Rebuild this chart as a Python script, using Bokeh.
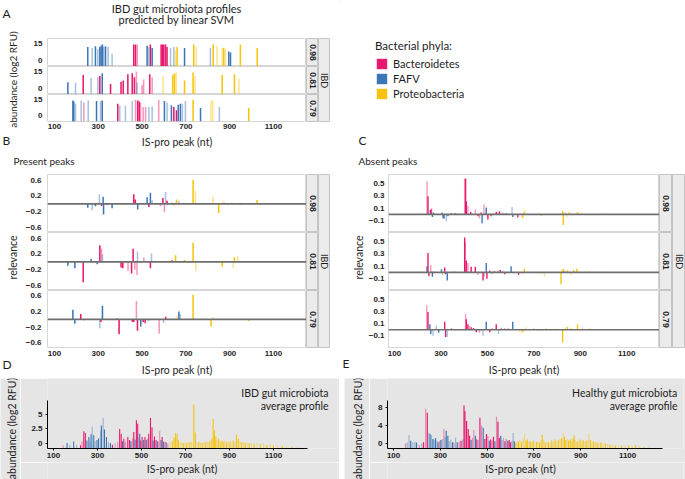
import math
from bokeh.plotting import figure
from bokeh.models import (Range1d, Span, Label, Spacer, ColumnDataSource,
                          FixedTicker, Legend, LegendItem)
from bokeh.layouts import row, column
from bokeh.core.properties import value
from bokeh.embed import file_html
from bokeh.resources import INLINE

# ------------------------------------------------------------------ data
phyla = ["Bacteroidetes", "FAFV", "Proteobacteria"]
auc_labels = ["0.98", "0.81", "0.79"]
x_ticks = [100, 300, 500, 700, 900, 1100]
# phylum codes: B/F/P = Bacteroidetes/FAFV/Proteobacteria, lower case = lighter shade

# Panel A: predicted IBD profiles (abundance, log2 RFU)
a1_nt = [252, 272, 287, 298, 307, 313, 319, 325, 333, 345,
         363, 462, 470, 478, 523, 531, 538, 546, 587, 593,
         599, 607, 614, 630, 645, 653, 660, 694, 736, 747,
         812, 825, 843, 866, 873, 881, 896, 904, 949, 1026]
a1_val = [12, 11, 12.5, 10, 12, 13, 14, 12, 12.5, 12,
          6, 14, 14, 14, 13, 12, 14, 11, 14, 14,
          14, 14, 12, 11, 12, 9, 12, 11, 14, 12,
          11, 14, 13, 11, 11, 10, 8, 7, 14, 11]
a1_phy = list("FfFfFFFfFf" "fBBbFfBFBB" "BBBffpPFPp" "fPppPpFFPP")

a2_nt = [161, 196, 231, 267, 298, 307, 318, 356, 404, 414,
         435, 455, 465, 474, 477, 500, 507, 535, 546, 596,
         640, 648, 656, 694, 733, 742, 866, 922, 942]
a2_val = [5.6, 5, 12, 9.5, 10, 11, 13.5, 4, 6, 7,
          12.5, 13.5, 10, 15, 5, 3, 8, 12.5, 10, 11,
          12, 13.5, 14, 7, 14, 11, 12, 12.5, 8.5]
a2_phy = list("FfBffBFBBB" "BBBbfbbBbp" "PPpPPpPPp")

a3_nt = [184, 188, 196, 222, 234, 254, 292, 310, 318, 389,
         398, 424, 455, 470, 480, 487, 493, 505, 516, 531,
         546, 576, 602, 614, 634, 645, 657, 665, 675, 684,
         698, 733, 767, 815, 823, 853, 987]
a3_val = [14, 13, 11, 14, 12, 14, 13.5, 13.5, 14, 11,
          9, 9, 13.5, 14.5, 14, 13, 12, 8, 8, 8,
          8.5, 14.5, 13.5, 12, 9.5, 8, 5, 10, 11, 11,
          13.5, 14.5, 7, 14, 14, 8, 7]
a3_phy = list("FFffbfFfFB" "fffbBBbbbf" "fbFfFBBFFf" "fPFppfP")

# Panel B: relevance of present peaks
b1_nt = [252, 272, 287, 305, 315, 322, 324, 340, 363, 462,
         469, 480, 523, 531, 538, 546, 584, 595, 602, 607,
         614, 637, 645, 657, 668, 733, 744, 824, 850, 873,
         911, 949, 1025]
b1_val = [-0.10, -0.16, -0.06, 0.24, -0.05, 0.18, -0.27, -0.04, -0.11, 0.24,
          0.11, -0.14, 0.17, -0.08, 0.28, 0.09, -0.06, 0.15, -0.21, 0.30,
          0.08, 0.03, -0.06, 0.11, 0.08, 0.61, 0.34, 0.18, -0.23, 0.07,
          0.03, -0.03, 0.10]
b1_phy = list("FfFfBFFfFB" "BFFBFfbBbf" "BFpPfPppPp" "PPP")

b2_nt = [161, 193, 231, 267, 295, 307, 315, 319, 404, 412,
         436, 452, 459, 467, 477, 479, 508, 538, 543, 637,
         653, 694, 733, 745, 866, 916, 922, 937]
b2_val = [-0.10, -0.16, -0.51, 0.08, -0.06, 0.42, 0.34, 0.19, -0.14, -0.16,
          -0.23, -0.29, 0.33, -0.20, -0.33, 0.26, 0.11, -0.16, 0.21, 0.04,
          0.17, 0.05, 0.48, -0.23, -0.12, -0.15, 0.12, 0.14]
b2_phy = list("FFBFFBbfBB" "bBBbbfbBfB" "PPPpPpPp")

b3_nt = [184, 193, 220, 234, 307, 312, 319, 386, 395, 455,
         462, 474, 479, 494, 505, 514, 529, 578, 598, 608,
         660, 668, 675, 733, 815, 824, 987]
b3_val = [0.25, -0.11, 0.14, -0.03, -0.23, -0.07, 0.35, 0.03, -0.38, -0.06,
          -0.07, 0.47, -0.29, -0.18, -0.07, -0.10, -0.05, -0.37, -0.09, 0.07,
          0.10, 0.20, 0.13, 0.63, -0.18, 0.06, -0.04]
b3_phy = list("FFBbfBFFBB" "BbBFBBfbfB" "pFfPPpP")

# Panel C: relevance of absent peaks
c1_nt = [220, 232, 240, 244, 254, 257, 260, 263, 268, 305,
         309, 313, 323, 330, 345, 362, 375, 402, 406, 409,
         416, 428, 448, 459, 466, 473, 477, 485, 495, 502,
         516, 525, 538, 545, 552, 566, 580, 606, 609, 631,
         652, 657, 662, 731, 736, 824, 827, 834, 841, 852,
         860, 871, 888, 903, 931, 960, 996]
c1_val = [0.01, 0.01, 0.53, 0.29, 0.07, 0.08, 0.10, -0.04, 0.03, 0.03,
          -0.06, -0.07, -0.11, -0.03, 0.02, 0.02, 0.01, 0.58, 0.57, 0.21,
          0.14, 0.04, 0.08, -0.03, -0.06, 0.03, -0.14, 0.16, 0.11, -0.08,
          -0.03, 0.02, 0.04, 0.03, 0.05, 0.03, 0.02, 0.12, -0.04, -0.05,
          -0.06, 0.03, 0.07, -0.03, -0.02, 0.06, -0.17, 0.04, -0.05, 0.03,
          0.02, 0.02, 0.04, 0.02, 0.01, 0.01, 0.01]
c1_phy = list("ffbBFBbFFF" "FFfFBBBbBB" "bBbBbBFbFB" "BbBbBfBfFB" "PPpppPPppP" "ppPpppP")

c2_nt = [220, 240, 244, 248, 256, 263, 268, 302, 306, 316,
         319, 327, 356, 362, 402, 405, 409, 416, 430, 448,
         459, 481, 485, 495, 498, 510, 520, 530, 545, 555,
         565, 575, 602, 634, 652, 659, 731, 745, 817, 822,
         827, 835, 845, 860, 871, 885, 917, 940, 960, 1003]
c2_val = [0.01, 0.10, 0.31, -0.06, 0.12, -0.07, 0.02, 0.05, -0.04, 0.08,
          -0.03, -0.13, 0.01, 0.01, 0.56, 0.49, 0.19, 0.15, 0.09, 0.09,
          -0.04, -0.13, -0.07, 0.15, -0.10, 0.03, -0.03, 0.02, 0.03, 0.04,
          0.03, -0.03, 0.10, -0.04, -0.03, 0.06, -0.03, -0.07, -0.19, 0.06,
          0.05, 0.04, 0.03, -0.04, 0.04, 0.06, 0.02, 0.03, 0.01, 0.01]
c2_phy = list("fFBBbFfFfB" "BFBBBbBbBB" "bBbFBBfBbB" "fBFBpPppPp" "PpPpPPppPP")

c3_nt = [220, 239, 244, 252, 256, 266, 280, 290, 316, 320,
         327, 345, 406, 409, 416, 423, 430, 440, 452, 466,
         481, 495, 510, 520, 538, 548, 560, 575, 590, 609,
         640, 652, 666, 700, 731, 752, 800, 824, 835, 845,
         860, 888, 910, 940, 970]
c3_val = [0.01, 0.40, 0.29, 0.09, -0.07, -0.10, 0.07, -0.05, 0.13, -0.12,
          -0.12, 0.02, 0.26, 0.17, 0.09, 0.06, 0.04, 0.03, -0.04, -0.05,
          -0.10, 0.13, -0.04, 0.03, 0.09, -0.07, 0.02, 0.03, 0.03, 0.13,
          -0.04, -0.04, 0.04, 0.02, -0.02, 0.03, 0.02, -0.21, 0.04, 0.05,
          0.03, 0.09, 0.02, 0.03, 0.01]
c3_phy = list("fbBFFffFBB" "fBbBBbBBBb" "fFBbBfBbfF" "pPpPpppPpP" "pPPpP")

# Panel D: IBD average profile
d_nt = [144, 162, 175, 192, 205, 223, 230, 238, 245, 252,
        261, 266, 271, 276, 283, 290, 298, 305, 314, 318,
        326, 332, 341, 350, 359, 368, 380, 392, 401, 408,
        414, 420, 428, 438, 446, 452, 459, 465, 471, 477,
        483, 488, 492, 497, 503, 510, 516, 522, 527, 533,
        541, 548, 553, 559, 566, 572, 577, 583, 589, 594,
        600, 606, 612, 620, 630, 640, 648, 655, 662, 668,
        675, 683, 690, 697, 705, 712, 720, 728, 738, 745,
        752, 760, 768, 776, 784, 792, 800, 808, 815, 820,
        826, 832, 838, 844, 850, 856, 862, 868, 874, 880,
        887, 894, 902, 910, 918, 926, 932, 940, 948, 956,
        964, 972, 980, 990, 1000, 1012, 1025, 1040, 1055, 1070,
        1085, 1100, 1120, 1140, 1160, 1185, 1210]
d_val = [-0.3, 0.1, -0.2, 0.35, -0.3, -0.3, 0.4, 2.1, 1.8, 0.5,
         1.1, 0.3, 1.6, 2.9, 1.4, 0.4, 0.6, 0.9, 2.2, 3.1,
         4.4, 2.4, 1.1, 0.2, 0.1, -0.2, 0.0, 0.2, 2.5, 1.7,
         0.4, 0.8, 0.3, 1.1, 0.6, 0.4, 0.9, 2.0, 0.7, 4.0,
         3.4, 1.0, 1.7, 0.5, 1.1, 0.6, 1.1, 0.6, 0.8, 1.7,
         4.4, 2.8, 0.5, 1.2, 0.6, 0.4, 0.3, 2.2, 0.6, 1.1,
         0.3, 0.3, 0.2, 0.0, 0.2, 0.4, 0.9, 1.8, 1.6, 0.6,
         0.2, 0.2, 0.1, 0.2, 0.1, 0.3, 0.2, 0.3, 6.7, 1.9,
         0.3, 0.2, 0.2, 0.1, 0.3, 0.2, 0.4, 0.3, 0.6, 0.8,
         4.2, 2.3, 1.2, 0.6, 0.8, 0.5, 0.4, 0.6, 0.3, 0.5,
         0.2, 0.3, 0.4, 0.2, 0.5, 0.3, 1.5, 0.8, 0.4, 0.2,
         0.3, 0.1, 0.2, 0.1, 0.1, 0.0, 0.1, -0.1, 0.0, -0.2,
         -0.1, -0.3, -0.3, -0.4, -0.5, -0.5, -0.6]
d_phy = list("bFfFfBbBBF" "FfFfFfFFfF" "fFFfFBfbBB" "FBbBBFbBFB" "BfFBBFBFbB"
             "BBFBBFbbFB" "FfBfpPPPPP" "ppPpPpPpPP" "pPpPpPpPpP" "PPPpPpPpPp"
             "PpPpPpPPpP" "pPpPpPpPpP" "pPpPpPp")

# Panel E: healthy average profile
e_nt = [151, 158, 166, 173, 182, 191, 198, 210, 220, 228,
        237, 244, 251, 256, 262, 268, 273, 279, 285, 290,
        296, 302, 308, 315, 320, 325, 332, 338, 345, 352,
        358, 365, 372, 380, 388, 395, 401, 405, 412, 419,
        425, 431, 437, 443, 450, 456, 462, 469, 476, 483,
        490, 497, 503, 509, 515, 521, 527, 533, 540, 546,
        552, 558, 564, 570, 576, 582, 588, 594, 600, 606,
        611, 616, 622, 628, 634, 640, 647, 654, 660, 666,
        672, 678, 684, 690, 697, 704, 711, 718, 724, 730,
        735, 741, 748, 755, 762, 769, 776, 783, 790, 797,
        804, 811, 818, 825, 830, 836, 842, 848, 855, 861,
        867, 871, 877, 884, 890, 897, 904, 910, 917, 923,
        929, 935, 941, 948, 955, 962, 970, 978, 986, 995,
        1005, 1015, 1025, 1035, 1048, 1060, 1075, 1090, 1105, 1120,
        1135, 1150, 1170, 1190]
e_val = [0.0, 0.3, 1.9, 0.6, 0.2, 0.4, 0.2, -0.3, 0.0, 0.3,
         7.7, 6.8, 2.3, 2.1, 1.8, 1.0, 0.7, 1.2, 0.6, 0.3,
         0.5, 0.8, 1.0, 3.2, 1.4, 2.8, 1.7, 0.5, 0.9, 0.3,
         0.2, 1.3, 0.3, 0.4, 0.6, 0.9, 8.4, 7.2, 5.0, 3.2,
         1.7, 0.8, 1.2, 3.0, 1.7, 0.9, 0.8, 5.7, 4.0, 3.5,
         1.0, 2.1, 1.7, 0.6, 0.9, 0.6, 1.5, 0.5, 5.9, 4.8,
         1.2, 1.7, 0.8, 1.3, 0.5, 1.0, 0.6, 0.8, 0.3, 0.6,
         2.3, 0.5, 0.2, 0.4, 0.5, 0.8, 0.4, 1.2, 2.1, 0.6,
         0.9, 0.4, 0.5, 0.3, 0.6, 0.3, 0.4, 0.3, 0.2, 0.8,
         1.9, 0.9, 0.3, 0.2, 0.4, 0.2, 0.7, 0.4, 0.9, 0.5,
         0.7, 0.9, 1.2, 2.4, 1.5, 0.8, 1.0, 0.6, 0.9, 0.5,
         1.1, 1.8, 0.7, 0.4, 0.6, 0.9, 0.5, 0.7, 0.4, 0.6,
         0.8, 2.3, 0.8, 0.3, 0.5, 0.2, 0.3, 0.1, 0.2, 0.1,
         0.0, -0.1, -0.2, -0.3, -0.4, -0.4, -0.5, -0.5, -0.4, -0.5,
         -0.3, -0.5, -0.7, -0.8]
e_phy = list("bffFffFbfB" "bBfFfFfFfF" "bFfbfFFffF" "bfFbBfBBBB" "BFbbFBfBbF"
             "BBbFBbBFbB" "BFbfBbFBBf" "fFPpPpPppP" "PpPpPpPpPp" "PpPpPpPpPp"
             "PpPpPPpPPp" "PPpPpPpPpP" "ppPpPpPpPp" "PpPpPpPpPp" "PpPp")

# ------------------------------------------------------------------ style
PINK, BLUE, YELLOW = "#E8186D", "#3B76B6", "#F6C40C"
PHY_COLOR = {"B": PINK, "F": BLUE, "P": YELLOW}
TEXT = "#1E1E1E"
FONT = "Lato"
TICK_FONT = "Liberation Sans"
STRIP_BG, STRIP_LINE = "#EBEBEB", "#C4C4C4"
PANEL_LINE = "#D6D6D6"
GREY_BG = "#E5E5E5"


def bar_source(nt, val, phy):
    n = min(len(nt), len(val), len(phy))
    return ColumnDataSource(dict(
        x=nt[:n], top=val[:n],
        color=[PHY_COLOR[c.upper()] for c in phy[:n]],
        alpha=[1.0 if c.isupper() else 0.45 for c in phy[:n]]))


def canvas(x0, y0, w, h, bg="white"):
    p = figure(width=w, height=h, x_range=Range1d(x0, x0 + w), y_range=Range1d(y0 + h, y0),
               min_border=0, toolbar_location=None, output_backend="svg",
               x_axis_location=None, y_axis_location=None, outline_line_color=None,
               background_fill_color=bg, border_fill_color=bg)
    p.grid.visible = False
    return p


def put_text(p, x, y, s, size=11.0, align="left", angle=0.0, bold=False):
    p.text(x=[x], y=[y], text=[s], angle=angle, text_align=align, text_baseline="middle",
           text_font=value(FONT), text_font_size=value(f"{size}px"),
           text_font_style="bold" if bold else "normal", text_color=TEXT)


def strip(label, w, h, bold=True, size=8.5):
    p = figure(width=w, height=h, x_range=Range1d(0, 1), y_range=Range1d(0, 1),
               min_border=0, toolbar_location=None, output_backend="svg",
               x_axis_location=None, y_axis_location=None,
               background_fill_color=STRIP_BG, outline_line_color=STRIP_LINE)
    p.grid.visible = False
    p.text(x=[0.5], y=[0.5], text=[label], angle=-math.pi / 2, text_align="center",
           text_baseline="middle", text_font=value(TICK_FONT if bold else FONT),
           text_font_size=value(f"{size}px"), text_font_style="bold" if bold else "normal",
           text_color=TEXT)
    return p


def tick_style(ax, standoff, tick_out=0, line=None):
    ax.major_label_text_font = TICK_FONT
    ax.major_label_text_font_size = "8px"
    ax.major_label_text_font_style = "bold"
    ax.major_label_text_color = TEXT
    ax.major_label_standoff = standoff
    ax.major_tick_out = tick_out
    ax.major_tick_in = 0
    ax.minor_tick_out = 0
    ax.minor_tick_in = 0
    ax.axis_line_color = line
    ax.major_tick_line_color = line


def xlabel_style(ax, standoff):
    ax.axis_label = "IS-pro peak (nt)"
    ax.axis_label_text_font = FONT
    ax.axis_label_text_font_size = "10.5px"
    ax.axis_label_text_font_style = "normal"
    ax.axis_label_text_color = TEXT
    ax.axis_label_standoff = standoff


def facet(nt, val, phy, w, h, left, bottom, xr, yr, yticks, base, bar_w,
          xaxis, y_standoff, zero=False, x_standoffs=(2, 4)):
    p = figure(width=w, height=h, x_range=Range1d(*xr), y_range=Range1d(*yr),
               min_border=0, min_border_left=left, min_border_bottom=bottom,
               toolbar_location=None, output_backend="svg",
               x_axis_location="below" if xaxis else None,
               outline_line_color=PANEL_LINE, background_fill_color="white")
    p.grid.visible = False
    p.vbar(x="x", top="top", bottom=base, width=bar_w, source=bar_source(nt, val, phy),
           fill_color="color", fill_alpha="alpha", line_color=None)
    if zero:
        p.add_layout(Span(location=0, dimension="width", line_color="#6E6E6E", line_width=1.6))
    ya = p.yaxis[0]
    ya.ticker = FixedTicker(ticks=yticks)
    tick_style(ya, y_standoff)
    if xaxis:
        xa = p.xaxis[0]
        xa.ticker = FixedTicker(ticks=x_ticks)
        tick_style(xa, x_standoffs[0])
        xlabel_style(xa, x_standoffs[1])
    return p


# ------------------------------------------------------------------ panel A
A_X, A_Y, A_BASE = (68, 1251), (-5.3, 19.4), -5.3
hdrA = canvas(0, 0, 340, 28)
put_text(hdrA, 2, 13, "A", size=12)
put_text(hdrA, 176, 7.5, "IBD gut microbiota profiles", size=11, align="center")
put_text(hdrA, 176, 19, "predicted by linear SVM", size=11, align="center")

gutA = canvas(0, 28, 20, 122)
put_text(gutA, 12.5, 79, "abundance (log2 RFU)", size=10, align="center", angle=math.pi / 2)
put_text(gutA, 2, 140, "B", size=12)

a_data = [(a1_nt, a1_val, a1_phy), (a2_nt, a2_val, a2_phy), (a3_nt, a3_val, a3_phy)]
figsA = []
for i, (nt, vv, ph) in enumerate(a_data):
    last = i == 2
    figsA.append(facet(nt, vv, ph, 286, 56 if last else 28, 27, 28 if last else 0,
                       A_X, A_Y, [0, 15], A_BASE, 7, last, 5, x_standoffs=(2, 4)))
stripsA = column(Spacer(width=12, height=10),
                 *[strip(t, 12, 28) for t in auc_labels],
                 Spacer(width=12, height=28))
ibdA = column(Spacer(width=12, height=10), strip("IBD", 12, 84, bold=False, size=9),
              Spacer(width=12, height=28))
blockA = column(hdrA, row(gutA, column(Spacer(width=286, height=10), *figsA),
                          stripsA, ibdA, Spacer(width=10, height=122)))

# ------------------------------------------------------------------ legend
leg = canvas(340, 0, 345, 150)
items = []
for name, col in zip(phyla, [PINK, BLUE, YELLOW]):
    # swatch renderer: its single bar lies outside the visible canvas
    r = leg.vbar(x=[-1000], top=[-1000], bottom=-1001, width=1,
                 fill_color=col, line_color=None)
    items.append(LegendItem(label=name, renderers=[r]))
legend = Legend(items=items, title="Bacterial phyla:", location=(35, 50),
                border_line_color=None, background_fill_alpha=0, padding=0, margin=0,
                spacing=2, glyph_width=13, glyph_height=13, label_standoff=5,
                label_height=13, title_standoff=5,
                label_text_font=FONT, label_text_font_size="11px", label_text_color=TEXT,
                title_text_font=FONT, title_text_font_size="11.5px",
                title_text_font_style="normal", title_text_color=TEXT)
leg.add_layout(legend)
put_text(leg, 358, 140, "C", size=12)

# ------------------------------------------------------------------ panel B
B_X, B_Y = (68, 1251), (-0.72, 0.74)
hdrB = canvas(0, 150, 340, 24)
put_text(hdrB, 13, 160, "Present peaks", size=10)
gutB = canvas(0, 174, 20, 204)
put_text(gutB, 12, 257, "relevance", size=10.5, align="center", angle=math.pi / 2)
put_text(gutB, 2, 364, "D", size=12)
b_data = [(b1_nt, b1_val, b1_phy), (b2_nt, b2_val, b2_phy), (b3_nt, b3_val, b3_phy)]
figsB = []
for i, (nt, vv, ph) in enumerate(b_data):
    last = i == 2
    figsB.append(facet(nt, vv, ph, 286, 88 if last else 58, 27, 30 if last else 0,
                       B_X, B_Y, [-0.6, -0.2, 0.2, 0.6], 0, 7, last, 6, zero=True,
                       x_standoffs=(3, 5)))
stripsB = column(*[strip(t, 12, 58) for t in auc_labels], Spacer(width=12, height=30))
ibdB = column(strip("IBD", 12, 174, bold=False, size=9), Spacer(width=12, height=30))
blockB = column(hdrB, row(gutB, column(*figsB), stripsB, ibdB, Spacer(width=10, height=204)))

# ------------------------------------------------------------------ panel C
C_X, C_Y = (74, 1241), (-0.29, 0.64)
hdrC = canvas(340, 150, 345, 24)
put_text(hdrC, 358, 160, "Absent peaks", size=10)
gutC = canvas(340, 174, 25, 204)
put_text(gutC, 358, 257, "relevance", size=10.5, align="center", angle=math.pi / 2)
put_text(gutC, 342, 363, "E", size=12)
c_data = [(c1_nt, c1_val, c1_phy), (c2_nt, c2_val, c2_phy), (c3_nt, c3_val, c3_phy)]
figsC = []
for i, (nt, vv, ph) in enumerate(c_data):
    last = i == 2
    figsC.append(facet(nt, vv, ph, 294, 88 if last else 58, 22, 30 if last else 0,
                       C_X, C_Y, [-0.1, 0.1, 0.3, 0.5], 0, 6, last, 4, zero=True,
                       x_standoffs=(3, 5)))
stripsC = column(*[strip(t, 13, 58) for t in auc_labels], Spacer(width=13, height=30))
ibdC = column(strip("IBD", 13, 174, bold=False, size=9), Spacer(width=13, height=30))
blockC = column(hdrC, row(gutC, column(*figsC), stripsC, ibdC))


# ------------------------------------------------------------------ panels D, E
def average(nt, vv, ph, x0, gut_w, w, left, xr, yr, bounds_x, bounds_y, yticks, overrides,
            title1, title2, t_right, xlab_cx):
    gut = canvas(x0, 378, gut_w, 101, bg=GREY_BG)
    put_text(gut, x0 + gut_w / 2 + 1, 428, "abundance (log2 RFU)", size=10.5,
             align="center", angle=math.pi / 2)
    p = figure(width=w, height=84, x_range=Range1d(*xr), y_range=Range1d(*yr),
               min_border=0, min_border_left=left, min_border_right=2,
               min_border_top=0, min_border_bottom=14,
               toolbar_location=None, output_backend="svg",
               background_fill_color=GREY_BG, border_fill_color=GREY_BG,
               outline_line_color=None)
    p.grid.visible = False
    p.vbar(x="x", top="top", bottom=bounds_y[0], width=5, source=bar_source(nt, vv, ph),
           fill_color="color", fill_alpha="alpha", line_color=None)
    ya, xa = p.yaxis[0], p.xaxis[0]
    ya.ticker = FixedTicker(ticks=yticks)
    ya.major_label_overrides = overrides
    ya.bounds = bounds_y
    tick_style(ya, 3, tick_out=2, line="black")
    xa.ticker = FixedTicker(ticks=x_ticks)
    xa.bounds = bounds_x
    tick_style(xa, 2, tick_out=2, line="black")
    for txt, yy in [(title1, 56), (title2, 43)]:
        p.add_layout(Label(x=t_right, y=yy, x_units="screen", y_units="screen", text=txt,
                           text_align="right", text_baseline="middle", text_font=FONT,
                           text_font_size="10.5px", text_color=TEXT))
    xl = canvas(x0 + gut_w, 462, w, 17, bg=GREY_BG)
    put_text(xl, xlab_cx, 468, "IS-pro peak (nt)", size=10.5, align="center")
    return row(gut, column(p, xl))


blockD = average(d_nt, d_val, d_phy, 0, 20, 319, 27, (73, 1391), (-0.86, 11.19),
                 (73, 1255), (-0.86, 7.4), [0, 2.5, 5], {0: "0", 2.5: "2.5", 5: "5"},
                 "IBD gut microbiota", "average profile", 281, 168)
blockE = average(e_nt, e_val, e_phy, 344, 25, 316, 18, (74, 1339), (-1.1, 14.36),
                 (74, 1250), (-1.1, 9.5), [0, 4, 8], {0: "0", 4: "4", 8: "8"},
                 "Healthy gut microbiota", "average profile", 290, 511)

root = column(row(blockA, leg), row(blockB, blockC),
              row(blockD, Spacer(width=5, height=101), blockE))

open("out.html", "w").write(file_html(root, INLINE))
